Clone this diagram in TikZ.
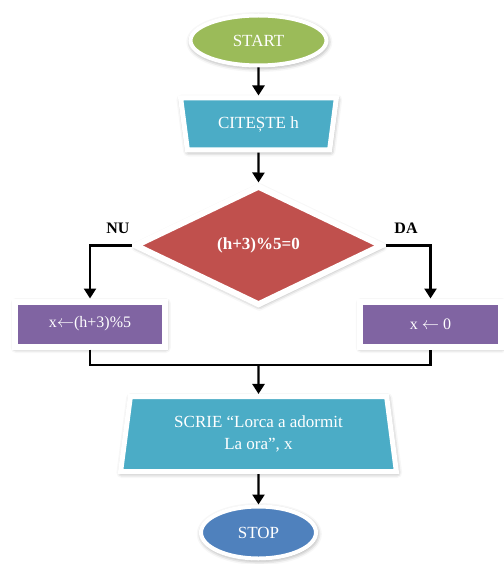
\documentclass[tikz,border=0pt]{standalone}
\usepackage{fontspec}
\setmainfont{Liberation Serif}
\usetikzlibrary{shapes.geometric,arrows.meta,shadows.blur}
\definecolor{termgreen}{HTML}{9BBB59}
\definecolor{iocyan}{HTML}{4BACC6}
\definecolor{testred}{HTML}{C0504D}
\definecolor{procviolet}{HTML}{8064A2}
\definecolor{termblue}{HTML}{4F81BD}
\begin{document}
\begin{tikzpicture}[x=1pt,y=-1pt,
  block/.style={draw=white, text=white, inner sep=0pt, align=center,
    font=\fontsize{17}{22}\selectfont,
    blur shadow={shadow xshift=0.8pt, shadow yshift=-1.5pt,
      shadow blur radius=5pt, shadow opacity=50}},
  terminal/.style={block, ellipse, line width=4pt},
  iobox/.style={block, trapezium, trapezium stretches=true, line width=5pt},
  decision/.style={block, diamond, line width=6pt, font=\bfseries\fontsize{17}{22}\selectfont},
  process/.style={block, rectangle, line width=6pt, font=\fontsize{16}{20}\selectfont},
  branchlabel/.style={font=\bfseries\fontsize{16}{20}\selectfont, text=black},
  flow/.style={line width=2.4pt, black},
  flowarrow/.style={flow, -{Triangle[length=10pt,width=12pt]}}
]
\useasboundingbox (0,0) rectangle (503,564);

% blocks
\node[terminal, fill=termgreen, minimum width=136pt, minimum height=50pt]
  (start) at (258.5,40.5) {START};
\node[iobox, fill=iocyan, shape border rotate=180, trapezium left angle=76,
  trapezium right angle=76, minimum width=156pt, minimum height=52pt]
  (read) at (258.5,124) {CITEȘTE h};
\node[decision, fill=testred, minimum width=248pt, minimum height=120pt]
  (test) at (258.5,245.5) {(h+3)\%5=0};
\node[process, fill=procviolet, minimum width=150pt, minimum height=45pt]
  (no) at (90,324) {x$\leftarrow$(h+3)\%5};
\node[process, fill=procviolet, minimum width=141pt, minimum height=45pt]
  (yes) at (430.5,324) {x $\leftarrow$ 0};
\node[iobox, fill=iocyan, trapezium left angle=80, trapezium right angle=80,
  minimum width=276pt, minimum height=75pt]
  (write) at (258.5,434) {SCRIE “Lorca a adormit\\La ora”, x};
\node[terminal, fill=termblue, minimum width=115pt, minimum height=52pt]
  (stop) at (258.5,532.5) {STOP};

% branch labels
\node[branchlabel] (nu) at (118,228) {NU};
\node[branchlabel] (da) at (406,228) {DA};

% junction below the two branches
\coordinate (join) at (258.5,365);

% connectors
\draw[flowarrow] (start.south) -- (read.north);
\draw[flowarrow] (read.south) -- (test.north);
\draw[flowarrow] (test.west) -| (no.north);
\draw[flowarrow] (test.east) -| (yes.north);
\draw[flow] (no.south) |- (join) -| (yes.south);
\draw[flowarrow] (join) -- (write.north);
\draw[flowarrow] (write.south) -- (stop.north);
\end{tikzpicture}
\end{document}
